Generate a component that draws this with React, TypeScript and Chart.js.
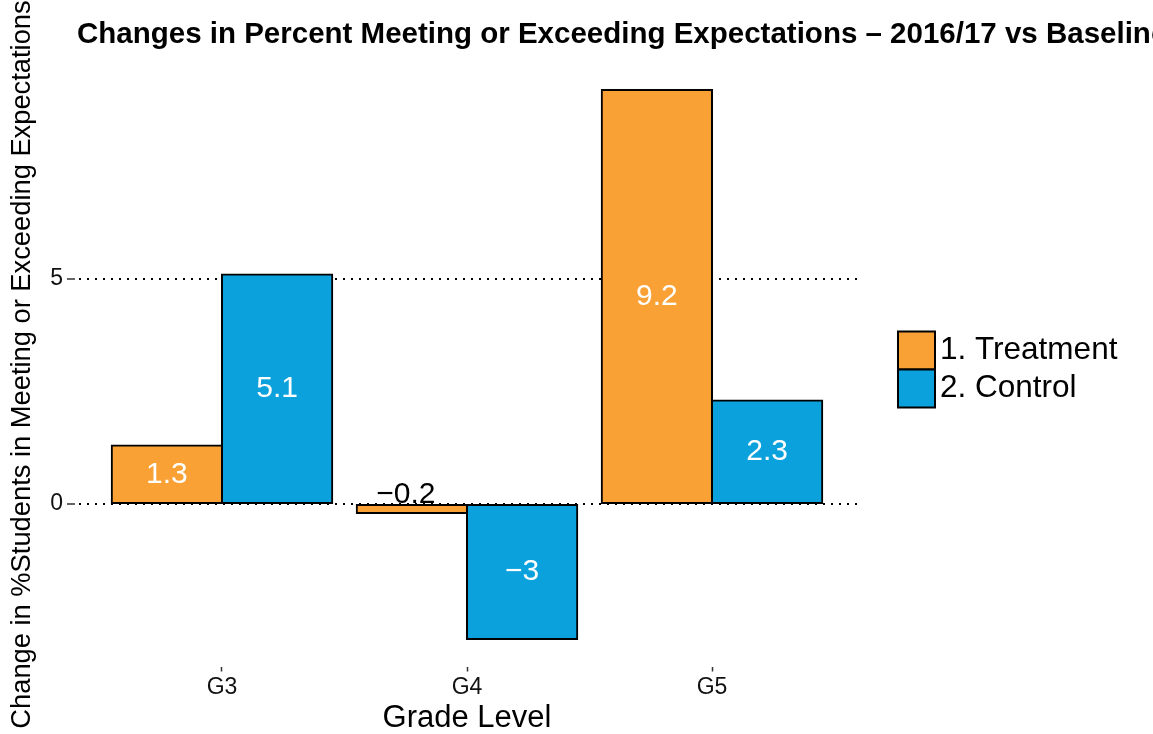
import React, { useEffect, useRef } from 'react';
import { Chart, registerables } from 'chart.js';

Chart.register(...registerables);

// ---- data ----
const categories = ['G3', 'G4', 'G5'];
const seriesNames = ['1. Treatment', '2. Control'];
const treatment = [1.3, -0.2, 9.2];
const control = [5.1, -3, 2.3];
const yTickValues = [0, 5];
const seriesColors = ['#F9A134', '#0BA1DC'];

const chartTitle = 'Changes in Percent Meeting or Exceeding Expectations \u2013 2016/17 vs Baseline';
const xTitle = 'Grade Level';
const yTitle = 'Change in %Students in Meeting or Exceeding Expectations';

const FONT = "'Liberation Sans', Arial, Helvetica, sans-serif";

const fmt = (v: number) => String(v).replace('-', '\u2212');

const titlePlugin = {
  id: 'ggTitle',
  afterDraw(chart: any) {
    const ctx = chart.ctx;
    ctx.save();
    ctx.font = `bold 29.5px ${FONT}`;
    ctx.fillStyle = '#000';
    ctx.textAlign = 'left';
    ctx.textBaseline = 'alphabetic';
    ctx.fillText(chartTitle, 77, 43);
    ctx.restore();
  },
};

const labelPlugin = {
  id: 'barLabels',
  afterDatasetsDraw(chart: any) {
    const ctx = chart.ctx;
    ctx.save();
    ctx.font = `30px ${FONT}`;
    ctx.textAlign = 'center';
    chart.data.datasets.forEach((ds: any, di: number) => {
      const meta = chart.getDatasetMeta(di);
      meta.data.forEach((bar: any, i: number) => {
        const v = ds.data[i].y;
        const h = Math.abs(bar.base - bar.y);
        if (h < 30) {
          ctx.fillStyle = '#000';
          ctx.textBaseline = 'alphabetic';
          ctx.fillText(fmt(v), bar.x - 6, Math.min(bar.y, bar.base) - 2);
        } else {
          ctx.fillStyle = '#fff';
          ctx.textBaseline = 'middle';
          ctx.fillText(fmt(v), bar.x, (bar.y + bar.base) / 2);
        }
      });
    });
    ctx.restore();
  },
};

const legendPlugin = {
  id: 'ggLegend',
  afterDraw(chart: any) {
    const ctx = chart.ctx;
    const area = chart.chartArea;
    const bw = 37;
    const bh = 38;
    const x0 = area.right + 39;
    const n = chart.data.datasets.length;
    const y0 = (area.top + area.bottom) / 2 + 5 - (n * bh) / 2;
    ctx.save();
    chart.data.datasets.forEach((ds: any, i: number) => {
      const y = y0 + i * bh;
      ctx.fillStyle = ds.backgroundColor;
      ctx.fillRect(x0, y, bw, bh);
      ctx.lineWidth = 2;
      ctx.strokeStyle = '#000';
      ctx.strokeRect(x0, y, bw, bh);
      ctx.fillStyle = '#000';
      ctx.font = `31.5px ${FONT}`;
      ctx.textAlign = 'left';
      ctx.textBaseline = 'middle';
      ctx.fillText(ds.label, x0 + bw + 5, y + bh / 2);
    });
    ctx.restore();
  },
};

export default function App() {
  const ref = useRef<HTMLCanvasElement | null>(null);

  useEffect(() => {
    if (!ref.current) return;
    Chart.defaults.font.family = FONT;
    Chart.defaults.color = '#000';
    const mk = (vals: number[]) => categories.map((_, i) => ({ x: i + 1, y: vals[i] }));
    const chart = new Chart(ref.current, {
      type: 'bar',
      data: {
        datasets: [
          {
            label: seriesNames[0],
            data: mk(treatment),
            backgroundColor: seriesColors[0],
            borderColor: '#000',
            borderWidth: 2,
            borderSkipped: false,
            inflateAmount: 1,
            categoryPercentage: 0.9,
            barPercentage: 1,
          },
          {
            label: seriesNames[1],
            data: mk(control),
            backgroundColor: seriesColors[1],
            borderColor: '#000',
            borderWidth: 2,
            borderSkipped: false,
            inflateAmount: 1,
            categoryPercentage: 0.9,
            barPercentage: 1,
          },
        ],
      } as any,
      options: {
        responsive: false,
        animation: false,
        layout: { padding: { left: 0, right: 294, top: 62.5, bottom: 0 } },
        plugins: {
          legend: { display: false },
          tooltip: { enabled: false },
          title: { display: false },
        },
        scales: {
          x: {
            type: 'linear',
            min: 0.4,
            max: 3.6,
            offset: false,
            afterBuildTicks: (s: any) => {
              s.ticks = categories.map((_, i) => ({ value: i + 1 }));
            },
            afterFit: (s: any) => {
              s.height = 67.5;
            },
            grid: {
              offset: false,
              drawOnChartArea: false,
              drawTicks: true,
              tickLength: 5,
              tickColor: '#333',
              tickWidth: 1.5,
            },
            border: { display: false },
            ticks: {
              font: { size: 23 },
              color: '#111',
              padding: 2,
              autoSkip: false,
              maxRotation: 0,
              callback: (v: any) => categories[Math.round(Number(v)) - 1] ?? '',
            },
            title: {
              display: true,
              text: xTitle,
              font: { size: 31, lineHeight: 1 },
              color: '#000',
              padding: { top: 0, bottom: 0 },
            },
          },
          y: {
            type: 'linear',
            min: -3.61,
            max: 9.81,
            afterBuildTicks: (s: any) => {
              s.ticks = yTickValues.map((v) => ({ value: v }));
            },
            afterFit: (s: any) => {
              s.width = 75;
            },
            grid: {
              color: '#000',
              lineWidth: 2,
              drawTicks: true,
              tickLength: 8,
              tickColor: '#333',
              tickWidth: 1.5,
              tickBorderDash: [],
            },
            border: { display: false, dash: [2, 6], dashOffset: -4 },
            ticks: {
              font: { size: 23 },
              color: '#111',
              padding: 4,
            },
            title: {
              display: true,
              text: yTitle,
              font: { size: 27.3 },
              color: '#000',
              padding: { top: 6, bottom: 0 },
            },
          },
        },
      } as any,
      plugins: [titlePlugin, labelPlugin, legendPlugin],
    });
    return () => chart.destroy();
  }, []);

  return (
    <canvas
      ref={ref}
      width={1153}
      height={734}
      style={{ position: 'absolute', left: 0, top: 0, display: 'block' }}
    />
  );
}
